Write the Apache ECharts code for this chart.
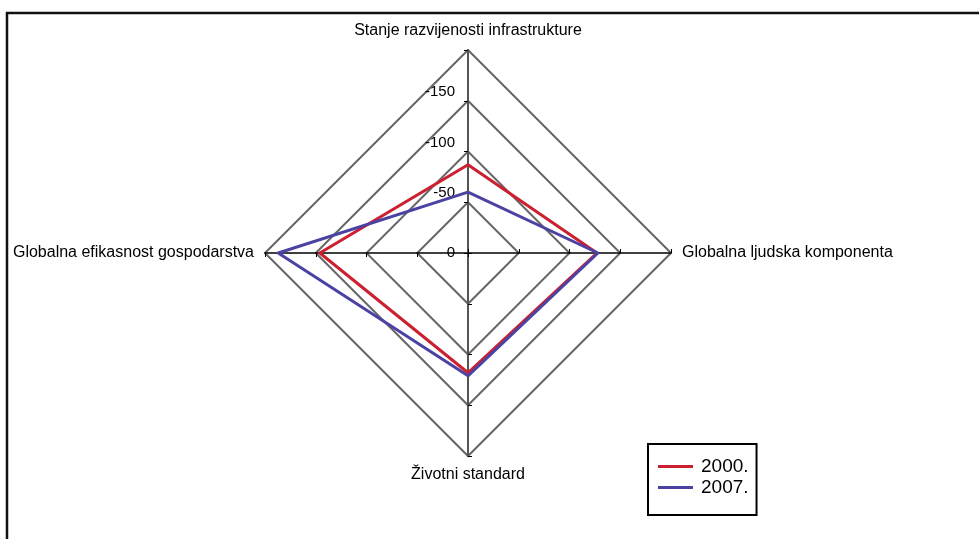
<!DOCTYPE html>
<html>
<head>
<meta charset="utf-8">
<script src="https://cdn.jsdelivr.net/npm/echarts@6/dist/echarts.min.js"></script>
<style>
html,body{margin:0;padding:0;background:#fff;}
#c{width:979px;height:539px;}
</style>
</head>
<body>
<div id="c"></div>
<script>
var indicatorNames = ['Stanje razvijenosti infrastrukture', 'Globalna efikasnost gospodarstva', 'Životni standard', 'Globalna ljudska komponenta'];
var axisMax = 200;
var seriesNames = ['2000.', '2007.'];
var values2000 = [87, 146, 118, 127];
var values2007 = [60, 187, 121, 128];
var seriesColors = ['#cc1f2f', '#4a43a3'];

var FONT = 'Liberation Sans, Arial, sans-serif';
var chart = echarts.init(document.getElementById('c'));

var indicators = indicatorNames.map(function (n, i) {
  var ind = { name: n, min: 0, max: axisMax };
  var vertical = (i % 2 === 0);
  ind.axisLine = { show: true, lineStyle: vertical ? { color: '#555', width: 2 } : { color: '#000', width: 1.5 } };
  if (i === 0) {
    ind.axisLabel = {
      show: true,
      color: '#000',
      fontSize: 15,
      fontFamily: FONT,
      margin: 13,
      formatter: function (v) {
        if (v === 0) return '{z|0}';
        if (v === axisMax) return '';
        return '{n|-' + v + '}';
      },
      rich: {
        z: { fontSize: 15, fontFamily: FONT, color: '#000' },
        n: { fontSize: 15, fontFamily: FONT, color: '#000', padding: [0, 0, 18, 0] }
      }
    };
  }
  return ind;
});

chart.setOption({
  backgroundColor: '#fff',
  animation: false,
  graphic: [{
    type: 'rect',
    shape: { x: 7, y: 13, width: 1100, height: 700 },
    style: { fill: 'none', stroke: '#111', lineWidth: 2.5 },
    silent: true,
    z: -1
  }],
  legend: {
    data: seriesNames,
    orient: 'vertical',
    left: 648,
    top: 444,
    padding: [13, 8, 18, 10],
    itemGap: 2,
    itemWidth: 35,
    itemHeight: 3,
    icon: 'rect',
    borderColor: '#000',
    borderWidth: 2,
    textStyle: { color: '#000', fontSize: 19, fontFamily: FONT, padding: [0, 0, 0, 3] }
  },
  radar: {
    center: [468, 253],
    radius: 203,
    shape: 'polygon',
    splitNumber: 4,
    startAngle: 90,
    indicator: indicators,
    axisName: { color: '#000', fontSize: 16, fontFamily: FONT },
    nameGap: 11,
    axisLine: { show: true, lineStyle: { color: '#555', width: 2 } },
    axisTick: { show: true, length: 4, lineStyle: { color: '#000', width: 1 } },
    axisLabel: { show: false },
    splitLine: { lineStyle: { color: '#666', width: 2 } },
    splitArea: { show: false }
  },
  series: [{
    type: 'radar',
    symbol: 'none',
    data: [
      { name: seriesNames[0], value: values2000, lineStyle: { color: seriesColors[0], width: 3 }, itemStyle: { color: seriesColors[0] } },
      { name: seriesNames[1], value: values2007, lineStyle: { color: seriesColors[1], width: 3 }, itemStyle: { color: seriesColors[1] } }
    ]
  }]
});
</script>
</body>
</html>
